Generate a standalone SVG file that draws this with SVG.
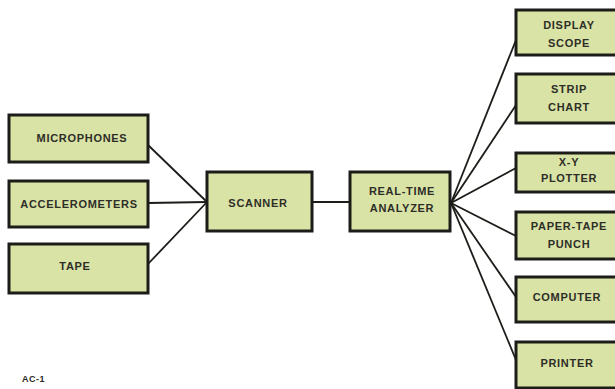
<svg xmlns="http://www.w3.org/2000/svg" width="615" height="389" viewBox="0 0 615 389">
  <style>
    .box { fill: #d9e3a6; stroke: #1c1c18; stroke-width: 3; }
    .lbl { font-family: "Liberation Sans", Arial, sans-serif; font-size: 11px; font-weight: bold; fill: #2e2e28; text-anchor: middle; dominant-baseline: central; letter-spacing: 0.7px; }
    .wire { stroke: #1c1c18; stroke-width: 1.8; fill: none; }
  </style>
  <rect width="615" height="389" fill="#ffffff"/>

  <!-- connectors -->
  <g id="connectors">
    <line class="wire" x1="148" y1="145" x2="207" y2="202"/>
    <line class="wire" x1="148" y1="203" x2="207" y2="202"/>
    <line class="wire" x1="148" y1="264" x2="207" y2="202"/>
    <line class="wire" x1="312" y1="202" x2="350" y2="202"/>
    <line class="wire" x1="451" y1="203" x2="516" y2="40"/>
    <line class="wire" x1="451" y1="203" x2="516" y2="105"/>
    <line class="wire" x1="451" y1="203" x2="516" y2="168"/>
    <line class="wire" x1="451" y1="203" x2="516" y2="236"/>
    <line class="wire" x1="451" y1="203" x2="516" y2="297"/>
    <line class="wire" x1="451" y1="203" x2="516" y2="360"/>
  </g>

  <!-- inputs -->
  <g id="microphones">
    <rect class="box" x="9" y="115" width="139" height="47"/>
    <text class="lbl" x="82" y="138">MICROPHONES</text>
  </g>
  <g id="accelerometers">
    <rect class="box" x="9" y="181" width="139" height="46"/>
    <text class="lbl" x="79" y="204">ACCELEROMETERS</text>
  </g>
  <g id="tape">
    <rect class="box" x="9" y="244" width="139" height="49"/>
    <text class="lbl" x="75" y="266">TAPE</text>
  </g>

  <!-- processing -->
  <g id="scanner">
    <rect class="box" x="207" y="172" width="105" height="59"/>
    <text class="lbl" x="258" y="203">SCANNER</text>
  </g>
  <g id="analyzer">
    <rect class="box" x="350" y="172" width="100" height="59"/>
    <text class="lbl" x="402" y="191">REAL-TIME</text>
    <text class="lbl" x="402" y="208">ANALYZER</text>
  </g>

  <!-- outputs -->
  <g id="display-scope">
    <rect class="box" x="516" y="10" width="104" height="45"/>
    <text class="lbl" x="569" y="25">DISPLAY</text>
    <text class="lbl" x="569" y="43">SCOPE</text>
  </g>
  <g id="strip-chart">
    <rect class="box" x="516" y="74" width="104" height="49"/>
    <text class="lbl" x="569" y="89">STRIP</text>
    <text class="lbl" x="569" y="107">CHART</text>
  </g>
  <g id="xy-plotter">
    <rect class="box" x="516" y="153" width="104" height="39"/>
    <text class="lbl" x="569" y="162">X-Y</text>
    <text class="lbl" x="569" y="178">PLOTTER</text>
  </g>
  <g id="paper-tape-punch">
    <rect class="box" x="516" y="212" width="104" height="47"/>
    <text class="lbl" x="569" y="226">PAPER-TAPE</text>
    <text class="lbl" x="569" y="244">PUNCH</text>
  </g>
  <g id="computer">
    <rect class="box" x="516" y="277" width="104" height="45"/>
    <text class="lbl" x="567" y="297">COMPUTER</text>
  </g>
  <g id="printer">
    <rect class="box" x="516" y="342" width="104" height="46"/>
    <text class="lbl" x="567" y="363">PRINTER</text>
  </g>

  <text x="22" y="382" style="font-family: 'Liberation Sans', Arial, sans-serif; font-size: 9px; font-weight: bold; fill: #2a2a24; letter-spacing: 0.5px;">AC-1</text>
</svg>
